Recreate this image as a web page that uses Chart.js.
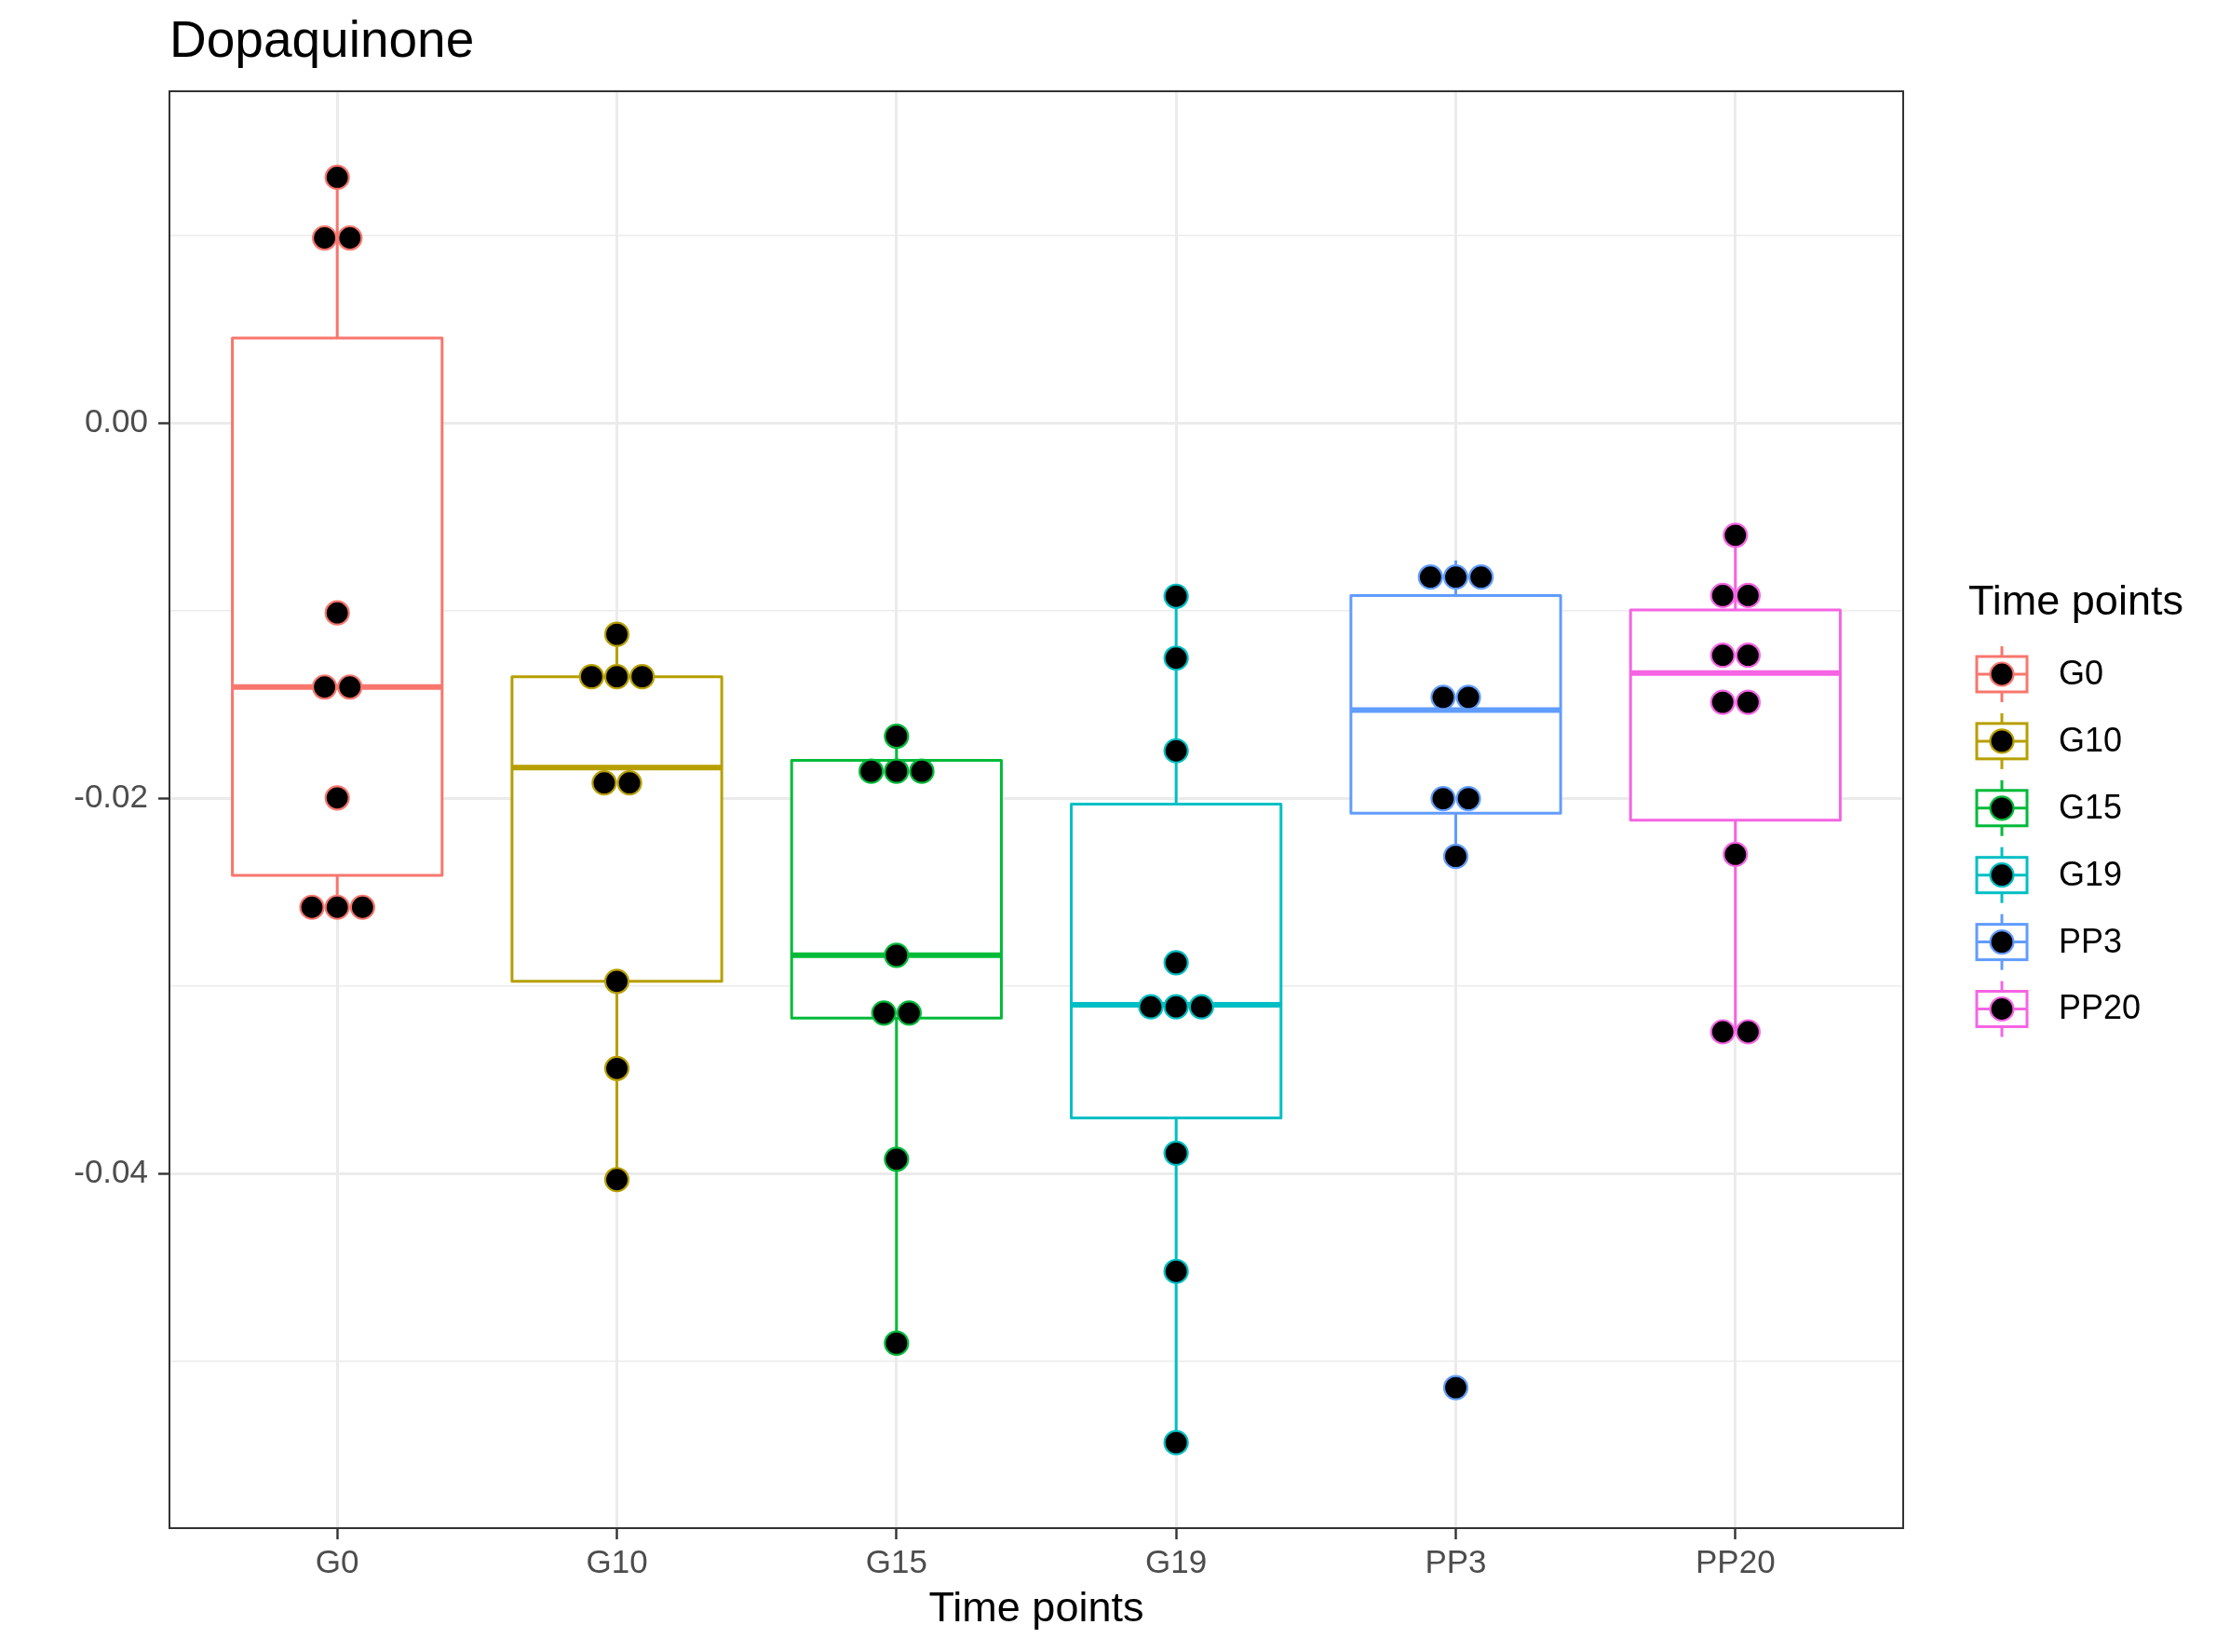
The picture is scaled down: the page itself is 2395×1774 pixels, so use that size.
<!DOCTYPE html>
<html>
<head>
<meta charset="utf-8">
<script src="https://cdn.jsdelivr.net/npm/chart.js@4.4.1/dist/chart.umd.min.js"></script>
<style>
  html, body { margin: 0; padding: 0; background: #ffffff; }
  #wrap { width: 2395px; height: 1774px; }
</style>
</head>
<body>
<div id="wrap"><canvas id="boxChart"></canvas></div>
<script>
// Categories and colours
const groups = ['G0', 'G10', 'G15', 'G19', 'PP3', 'PP20'];
const groupColors = ['#F8766D', '#B79F00', '#00BA38', '#00BFC4', '#619CFF', '#F564E3'];

// Box statistics
const lowerWhisker = [-0.0258, -0.04032, -0.04904, -0.05434, -0.02309, -0.03244];
const q1 = [-0.02410, -0.02975, -0.03171, -0.03703, -0.02078, -0.02116];
const median = [-0.01406, -0.01835, -0.02836, -0.03100, -0.01529, -0.01332];
const q3 = [0.00455, -0.01351, -0.01797, -0.02030, -0.00918, -0.00995];
const upperWhisker = [0.01311, -0.01125, -0.01668, -0.00922, -0.00731, -0.00597];

// Observations per group (dotplot)
const g0Values = [0.01311, 0.00988, 0.00988, -0.01011, -0.01406, -0.01406, -0.01997, -0.0258, -0.0258, -0.0258];
const g10Values = [-0.01125, -0.01351, -0.01351, -0.01351, -0.01917, -0.01917, -0.02975, -0.03439, -0.04032];
const g15Values = [-0.01668, -0.01855, -0.01855, -0.01855, -0.02836, -0.03144, -0.03144, -0.03923, -0.04904];
const g19Values = [-0.00922, -0.01252, -0.01746, -0.02876, -0.03111, -0.03111, -0.03111, -0.03891, -0.04521, -0.05434];
const pp3Values = [-0.0082, -0.0082, -0.0082, -0.01461, -0.01461, -0.02001, -0.02001, -0.02309, -0.05141];
const pp20Values = [-0.00597, -0.00918, -0.00918, -0.01237, -0.01237, -0.01487, -0.01487, -0.02298, -0.03244, -0.03244];
const groupValues = [g0Values, g10Values, g15Values, g19Values, pp3Values, pp20Values];

// Axis ticks
const yTickValues = [0, -0.02, -0.04];
const yTickLabels = ['0.00', '-0.02', '-0.04'];

const FONT = '"Liberation Sans", Arial, Helvetica, sans-serif';
const DOT_STEP = 0.0905;   // horizontal spacing of stacked dots, in category units
const BOX_HALF = 0.375;    // half box width, in category units

// spread equal values side by side, centred on the category
function dodge(values, step) {
    const counts = {}, seen = {};
    values.forEach(v => counts[v] = (counts[v] || 0) + 1);
    return values.map(v => {
        const k = seen[v] || 0;
        seen[v] = k + 1;
        return (k - (counts[v] - 1) / 2) * step;
    });
}

function isMajor(value) {
    return yTickValues.some(v => Math.abs(v - value) < 1e-9);
}

// Boxes and whiskers, drawn under the dots
const boxPlugin = {
    id: 'boxes',
    beforeDatasetsDraw(chart) {
        const { ctx, scales: { x, y } } = chart;
        groups.forEach((g, i) => {
            const cx = x.getPixelForValue(i);
            const left = x.getPixelForValue(i - BOX_HALF);
            const right = x.getPixelForValue(i + BOX_HALF);
            const top = y.getPixelForValue(q3[i]);
            const bottom = y.getPixelForValue(q1[i]);
            const mid = y.getPixelForValue(median[i]);
            ctx.save();
            ctx.strokeStyle = groupColors[i];
            ctx.lineWidth = 3;
            ctx.beginPath();
            ctx.moveTo(cx, top);
            ctx.lineTo(cx, y.getPixelForValue(upperWhisker[i]));
            ctx.moveTo(cx, bottom);
            ctx.lineTo(cx, y.getPixelForValue(lowerWhisker[i]));
            ctx.stroke();
            ctx.fillStyle = '#ffffff';
            ctx.fillRect(left, top, right - left, bottom - top);
            ctx.lineJoin = 'round';
            ctx.strokeRect(left, top, right - left, bottom - top);
            ctx.lineWidth = 6;
            ctx.beginPath();
            ctx.moveTo(left, mid);
            ctx.lineTo(right, mid);
            ctx.stroke();
            ctx.restore();
        });
    }
};

// Panel border on top
const borderPlugin = {
    id: 'panelBorder',
    afterDatasetsDraw(chart) {
        const { ctx, chartArea: a } = chart;
        ctx.save();
        ctx.strokeStyle = '#333333';
        ctx.lineWidth = 2;
        ctx.strokeRect(a.left, a.top, a.right - a.left, a.bottom - a.top);
        ctx.restore();
    }
};

// Legend with boxplot keys
const legendPlugin = {
    id: 'boxLegend',
    afterDraw(chart) {
        const ctx = chart.ctx;
        const titleX = 2114, titleY = 660;
        const keyX = 2150, firstY = 724, rowH = 71.9;
        ctx.save();
        ctx.fillStyle = '#000000';
        ctx.font = '45px ' + FONT;
        ctx.textAlign = 'left';
        ctx.textBaseline = 'alphabetic';
        ctx.fillText('Time points', titleX, titleY);
        groups.forEach((g, i) => {
            const cy = firstY + i * rowH;
            ctx.strokeStyle = groupColors[i];
            ctx.lineWidth = 3;
            ctx.beginPath();
            ctx.moveTo(keyX, cy - 30);
            ctx.lineTo(keyX, cy + 30);
            ctx.stroke();
            ctx.fillStyle = '#ffffff';
            ctx.fillRect(keyX - 27, cy - 19, 54, 38);
            ctx.strokeRect(keyX - 27, cy - 19, 54, 38);
            ctx.beginPath();
            ctx.moveTo(keyX - 27, cy);
            ctx.lineTo(keyX + 27, cy);
            ctx.stroke();
            ctx.beginPath();
            ctx.arc(keyX, cy, 12.5, 0, Math.PI * 2);
            ctx.fillStyle = '#000000';
            ctx.fill();
            ctx.lineWidth = 2.2;
            ctx.stroke();
            ctx.fillStyle = '#000000';
            ctx.font = '36px ' + FONT;
            ctx.textBaseline = 'middle';
            ctx.fillText(g, 2211, cy + 1);
            ctx.textBaseline = 'alphabetic';
        });
        ctx.restore();
    }
};

const datasets = groups.map((g, i) => {
    const offsets = dodge(groupValues[i], DOT_STEP);
    return {
        label: g,
        type: 'scatter',
        data: groupValues[i].map((v, j) => ({ x: i + offsets[j], y: v })),
        backgroundColor: '#000000',
        borderColor: groupColors[i],
        pointRadius: 12.5,
        pointHoverRadius: 12.5,
        pointBorderWidth: 2.2
    };
});

const chart = new Chart(document.getElementById('boxChart'), {
    type: 'scatter',
    data: { datasets },
    plugins: [boxPlugin, borderPlugin, legendPlugin],
    options: {
        responsive: true,
        maintainAspectRatio: false,
        animation: false,
        events: [],
        layout: { padding: { left: 0, right: 351, top: 0, bottom: 0 } },
        plugins: {
            legend: { display: false },
            tooltip: { enabled: false },
            title: {
                display: true,
                text: 'Dopaquinone',
                align: 'start',
                fullSize: false,
                color: '#000000',
                font: { family: FONT, size: 55, weight: 'normal', lineHeight: 1 },
                padding: { top: 18, bottom: 25 }
            }
        },
        scales: {
            x: {
                type: 'linear',
                min: -0.6,
                max: 5.6,
                border: { display: false },
                afterFit(scale) { scale.height = 133; },
                ticks: {
                    stepSize: 1,
                    includeBounds: false,
                    padding: 5,
                    color: '#4D4D4D',
                    font: { family: FONT, size: 35 },
                    callback: value => groups[value] ?? ''
                },
                grid: {
                    color: '#EBEBEB',
                    lineWidth: 3,
                    tickColor: '#333333',
                    tickLength: 12,
                    tickWidth: 2.4
                },
                title: {
                    display: true,
                    text: 'Time points',
                    color: '#000000',
                    font: { family: FONT, size: 45 },
                    padding: { top: 0, bottom: 18 }
                }
            },
            y: {
                type: 'linear',
                min: -0.0589,
                max: 0.0177,
                border: { display: false },
                afterFit(scale) { scale.width = 182; },
                ticks: {
                    stepSize: 0.01,
                    includeBounds: false,
                    padding: 11,
                    color: '#4D4D4D',
                    font: { family: FONT, size: 35 },
                    callback: value => {
                        const k = yTickValues.findIndex(v => Math.abs(v - value) < 1e-9);
                        return k >= 0 ? yTickLabels[k] : '';
                    }
                },
                grid: {
                    color: '#EBEBEB',
                    lineWidth: ctx => isMajor(ctx.tick.value) ? 3 : 1.6,
                    tickColor: ctx => isMajor(ctx.tick.value) ? '#333333' : 'rgba(0,0,0,0)',
                    tickLength: 12,
                    tickWidth: 2.4
                }
            }
        }
    }
});
</script>
</body>
</html>
